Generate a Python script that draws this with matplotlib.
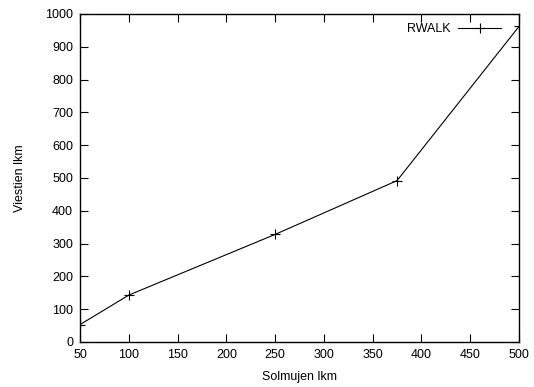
import matplotlib
matplotlib.use('Agg')
import matplotlib.pyplot as plt

# data
solmujen = [50, 100, 250, 375, 500]
viestien = [53, 143, 328, 492, 962]
xticks = [50, 100, 150, 200, 250, 300, 350, 400, 450, 500]
yticks = [0, 100, 200, 300, 400, 500, 600, 700, 800, 900, 1000]

plt.rcParams['font.family'] = ['Liberation Sans', 'DejaVu Sans']
plt.rcParams['font.size'] = 9

fig = plt.figure(figsize=(5.34, 3.87), dpi=100)
ax = fig.add_axes([80/534., 1 - 342/387., (519-80)/534., (342-14)/387.])

ax.plot(solmujen, viestien, 'k-', marker='+', markersize=7, lw=0.8, mew=0.8, label='RWALK')
ax.set_xlim(50, 500)
ax.set_ylim(0, 1000)
ax.set_xticks(xticks)
ax.set_yticks(yticks)
ax.tick_params(direction='in', top=True, right=True, length=6, width=0.8, labelsize=9, pad=5)
for s in ax.spines.values():
    s.set_linewidth(1.0)
ax.set_xlabel('Solmujen lkm', fontsize=9, labelpad=7)
ax.set_ylabel('Viestien lkm', fontsize=9, labelpad=14)

lgd = ax.legend(loc='upper right', frameon=False, markerfirst=False, handlelength=3.4,
                bbox_to_anchor=(0.98, 1.0), borderaxespad=0.35, fontsize=9, handletextpad=0.6)

fig.savefig('out.png', dpi=100)
